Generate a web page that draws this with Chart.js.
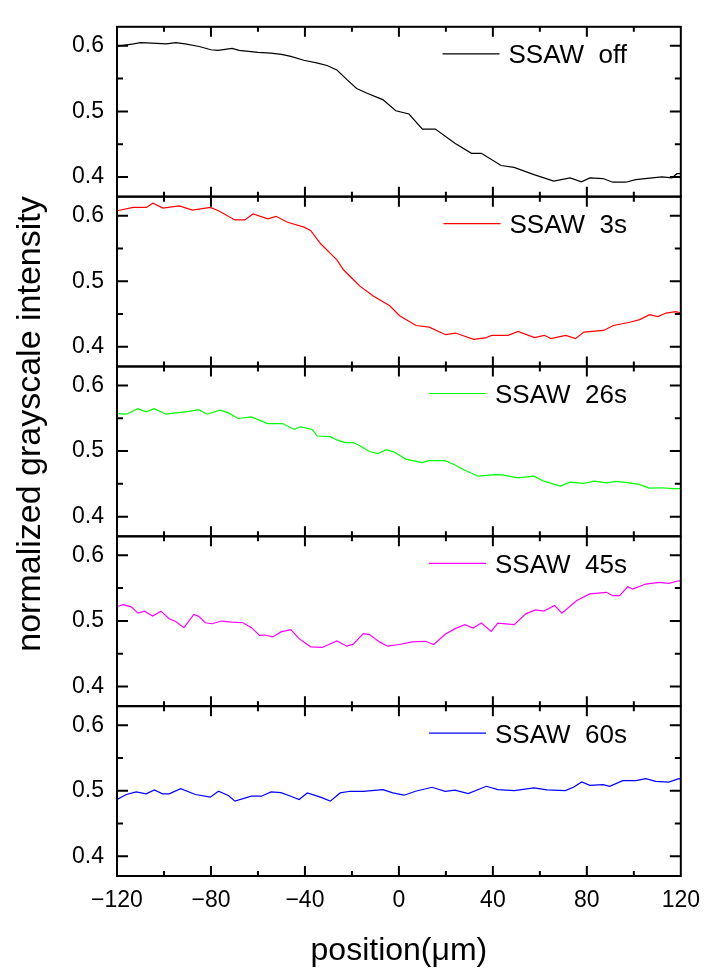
<!DOCTYPE html>
<html><head><meta charset="utf-8">
<script src="https://cdn.jsdelivr.net/npm/chart.js@4/dist/chart.umd.min.js"></script>
<style>html,body{margin:0;padding:0;background:#fff;}canvas{display:block;}</style>
</head><body>
<canvas id="c" width="711" height="970"></canvas>
<script>
const FONT = '"Liberation Sans", Arial, Helvetica, sans-serif';

// ---- data ----
const seriesLabels = ['SSAW  off', 'SSAW  3s', 'SSAW  26s', 'SSAW  45s', 'SSAW  60s'];
const xTickLabels = ['\u2212120', '\u221280', '\u221240', '0', '40', '80', '120'];
const xAxisTitle = 'position(\u03bcm)';
const yAxisTitle = 'normalized grayscale intensity';

const offX = [-120,-113,-110,-105,-99,-95,-91,-85,-80,-77,-71,-68,-60,-54.5,-50,-46,-40.5,-35,-30.6,-26.4,-22,-18,-13.8,-6.9,-1.3,4.3,10,15.5,24,30.9,35.1,43.5,49,57.5,65.9,72.9,77.7,81.3,86.9,91,96.6,100.8,107.8,112,116.2,118.3,120];
const offY = [0.599,0.603,0.605,0.604,0.603,0.605,0.603,0.599,0.594,0.593,0.596,0.593,0.590,0.589,0.587,0.584,0.578,0.574,0.570,0.563,0.548,0.535,0.528,0.518,0.501,0.496,0.473,0.473,0.451,0.436,0.436,0.4175,0.4145,0.4036,0.3936,0.3985,0.3926,0.3985,0.3976,0.392,0.392,0.396,0.3985,0.400,0.3985,0.405,0.405];

const s3X = [-120,-113.1,-107.5,-104.7,-100.5,-93.5,-87.9,-80.3,-76.8,-69.8,-65.6,-62.1,-55.8,-52.3,-47.4,-40.4,-37.6,-33.4,-29.2,-26.4,-23.6,-18.7,-16.6,-10.9,-3.9,0.3,7.3,12.9,19.9,24.1,31.8,36.7,39.5,46.5,50.7,57.7,61.9,64.7,71,75.2,78.7,87.1,91.3,98.3,102.5,106.7,110.2,113.7,117.9,120];
const s3Y = [0.6075,0.6125,0.6125,0.619,0.6115,0.615,0.6085,0.6125,0.6075,0.5935,0.5935,0.6025,0.595,0.599,0.590,0.5825,0.5775,0.5575,0.5425,0.5325,0.5175,0.500,0.4925,0.4775,0.4625,0.4475,0.4325,0.430,0.4185,0.421,0.4115,0.4135,0.4175,0.4175,0.4235,0.414,0.4175,0.4125,0.4175,0.4125,0.4225,0.425,0.4325,0.4375,0.4415,0.449,0.446,0.4515,0.4535,0.4515];

const s26X = [-120,-116,-111.1,-107.6,-104.1,-99.2,-95,-90.8,-85.2,-81.7,-76.1,-72.6,-68.4,-62.8,-55.8,-49.5,-44.6,-41.8,-36.9,-34.8,-29.2,-26.4,-22.9,-19.4,-16.6,-12.5,-8.9,-5.5,-2,2.9,9.9,12.7,19.7,23.9,28.1,33.7,40.7,44.2,50.5,57.5,61.7,68.7,72.9,78.5,83.4,88.3,92.5,98.1,102.3,106.5,112.1,116.3,120];
const s26Y = [0.557,0.5562,0.5647,0.5597,0.5647,0.5562,0.5582,0.5597,0.5632,0.5562,0.5623,0.5582,0.5497,0.5522,0.542,0.542,0.533,0.537,0.533,0.523,0.522,0.517,0.513,0.513,0.508,0.4994,0.496,0.502,0.4985,0.4878,0.4823,0.4853,0.4853,0.4788,0.4707,0.4617,0.4642,0.4637,0.4591,0.4617,0.4541,0.4466,0.4526,0.4506,0.4541,0.4516,0.4537,0.4516,0.4492,0.4436,0.4441,0.4426,0.4426];

const s45X = [-120,-117.3,-113.8,-111.1,-108.3,-104.8,-101.3,-97.8,-95,-91.5,-87.3,-85.2,-82.4,-79.6,-75.4,-71.2,-66.3,-62.8,-59.3,-57.2,-53.7,-50.2,-46,-42.5,-37.6,-32.7,-26.4,-22.2,-19.4,-15.2,-12.5,-8.3,-4.8,0.1,5.7,11.3,14.8,19.7,23.9,28.1,31.6,35.1,39.3,42.1,49.1,54,58.2,61.7,66.3,69.4,75.7,81.3,88.3,91.1,93.9,97.4,99.5,105.1,110.7,114.9,119.1,120];
const s45Y = [0.5219,0.5249,0.521,0.5119,0.5149,0.5073,0.5149,0.5033,0.4992,0.4897,0.5098,0.507,0.4972,0.4957,0.4998,0.4983,0.4972,0.4897,0.478,0.4785,0.4756,0.4832,0.4867,0.473,0.4605,0.4595,0.4696,0.4615,0.4645,0.4806,0.4791,0.468,0.4615,0.464,0.468,0.469,0.464,0.4796,0.4882,0.4942,0.4892,0.4967,0.4841,0.4967,0.4942,0.5108,0.5169,0.5149,0.5234,0.5119,0.5310,0.5411,0.5436,0.5385,0.5385,0.5521,0.5486,0.5562,0.5587,0.5572,0.5612,0.5612];

const s60X = [-120,-116,-111.8,-107.6,-104.1,-100.6,-97.8,-92.9,-86.6,-80.3,-76.8,-72.6,-69.8,-62.8,-58.6,-54.4,-50.2,-46,-42.5,-39,-33.4,-29.2,-25,-20.8,-15.2,-6.8,-2.6,2.2,7.1,14.1,19.7,23.9,29.5,37.2,42.1,49.1,57.5,63.1,70.8,74.3,77.8,81.3,86.9,89.7,95.3,100.9,105.1,109.3,114.9,119.1,120];
const s60Y = [0.4867,0.4943,0.4982,0.4952,0.5012,0.4952,0.4952,0.5033,0.4943,0.4902,0.4992,0.4927,0.4841,0.4917,0.4917,0.4982,0.4972,0.4917,0.4867,0.4967,0.4902,0.4841,0.4967,0.4992,0.4992,0.5018,0.4967,0.4932,0.4992,0.5053,0.4992,0.5008,0.4957,0.5068,0.5018,0.5003,0.5043,0.5013,0.5003,0.5053,0.5133,0.5083,0.5093,0.5068,0.5154,0.5154,0.5184,0.5144,0.5133,0.5184,0.518];

const seriesX = [offX, s3X, s26X, s45X, s60X];
const seriesY = [offY, s3Y, s26Y, s45Y, s60Y];

// ---- styles ----
const colors = ['#000000', '#ff0000', '#00ff00', '#ff00ff', '#0000ff'];

const datasets = seriesLabels.map((lab, i) => ({
  label: lab,
  data: seriesX[i].map((x, j) => ({x: x, y: seriesY[i][j]})),
  yAxisID: 'y' + i,
  borderColor: colors[i],
  backgroundColor: colors[i],
  borderWidth: 1.2,
  pointRadius: 0,
  tension: 0,
  fill: false
}));

const scales = {
  x: {
    type: 'linear', position: 'bottom', min: -120, max: 120,
    ticks: {
      stepSize: 40, padding: 11, maxRotation: 0, autoSkip: false, color: '#000',
      font: {family: FONT, size: 23},
      callback: (v, idx) => xTickLabels[idx]
    },
    grid: {display: false, drawTicks: false},
    border: {display: false},
    title: {display: true, text: xAxisTitle, color: '#000', font: {family: FONT, size: 32}, padding: {top: 0, bottom: 0}},
    afterFit: s => { s.height = 94; }
  }
};
// stacked panels: last inserted scale is placed on top, so insert bottom panel first
for (let i = 4; i >= 0; i--) {
  scales['y' + i] = {
    type: 'linear', position: 'left', stack: 'panels', stackWeight: 1,
    min: 0.37, max: 0.629,
    ticks: {
      stepSize: 0.1, includeBounds: false, padding: 13, color: '#000',
      font: {family: FONT, size: 23},
      callback: v => Number(v).toFixed(1)
    },
    grid: {display: false, drawTicks: false},
    border: {display: false},
    afterFit: s => { s.width = 117; }
  };
}

const framePlugin = {
  id: 'frames',
  afterDatasetsDraw(chart) {
    const ctx = chart.ctx;
    const {left, right} = chart.chartArea;
    const xs = chart.scales.x;
    ctx.save();
    ctx.strokeStyle = '#000';
    ctx.lineCap = 'butt';
    for (let i = 0; i < 5; i++) {
      const ys = chart.scales['y' + i];
      const top = ys.top, bottom = ys.bottom;
      ctx.lineWidth = 2;
      ctx.strokeRect(left, top, right - left, bottom - top);
      ctx.beginPath();
      for (let k = 8; k <= 12; k++) {
        const y = ys.getPixelForValue(k * 0.05);
        const len = (k % 2 === 0) ? 11 : 6;
        ctx.moveTo(left, y); ctx.lineTo(left + len, y);
        ctx.moveTo(right, y); ctx.lineTo(right - len, y);
      }
      for (let v = -100; v <= 100; v += 20) {
        const x = xs.getPixelForValue(v);
        const len = ((v + 120) % 40 === 0) ? 10 : 5;
        ctx.moveTo(x, top); ctx.lineTo(x, top + len);
        ctx.moveTo(x, bottom); ctx.lineTo(x, bottom - len);
      }
      ctx.stroke();
    }
    ctx.restore();
  },
  afterDraw(chart) {
    const ctx = chart.ctx;
    ctx.save();
    // legends
    ctx.font = '26px ' + FONT;
    ctx.textAlign = 'left';
    ctx.textBaseline = 'alphabetic';
    chart.data.datasets.forEach((ds, i) => {
      const ys = chart.scales['y' + i];
      const w = ctx.measureText(ds.label).width;
      const tx = 627 - w;
      const cy = ys.top + 27;
      ctx.fillStyle = '#000';
      ctx.fillText(ds.label, tx, ys.top + 36.5);
      ctx.strokeStyle = ds.borderColor;
      ctx.lineWidth = 1.2;
      ctx.beginPath();
      ctx.moveTo(tx - 9 - 57, cy);
      ctx.lineTo(tx - 9, cy);
      ctx.stroke();
    });
    // y axis title
    ctx.translate(31, 424);
    ctx.rotate(-Math.PI / 2);
    ctx.font = '34px ' + FONT;
    ctx.textAlign = 'center';
    ctx.textBaseline = 'middle';
    ctx.fillStyle = '#000';
    ctx.fillText(yAxisTitle, 0, 0);
    ctx.restore();
  }
};

new Chart(document.getElementById('c'), {
  type: 'line',
  data: {datasets: datasets},
  options: {
    responsive: false,
    animation: false,
    devicePixelRatio: 1,
    layout: {padding: {top: 13, right: 22, left: 0, bottom: 0}},
    plugins: {legend: {display: false}, tooltip: {enabled: false}},
    scales: scales
  },
  plugins: [framePlugin]
});
</script>
</body></html>
